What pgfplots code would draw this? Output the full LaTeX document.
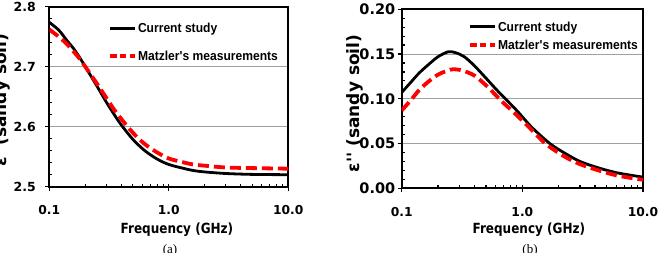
\documentclass[border=0pt]{standalone}
\usepackage{fontspec}
\usepackage{pgfplots}
\pgfplotsset{compat=1.18}
\setmainfont{Liberation Serif}
\newfontfamily\dv{DejaVu Sans}
\newfontfamily\dvn{DejaVu Sans}[FakeStretch=0.86]
\newfontfamily\lsn{Liberation Sans}[FakeStretch=0.93]

\definecolor{gridgray}{RGB}{160,160,160}

\newcommand{\freqlabel}{{\dvn\bfseries\fontsize{14}{16}\selectfont Frequency (GHz)}}

\pgfplotsset{
  panel/.style={
    scale only axis,
    xmin=0.1, xmax=10,
    xtick={0.1,1,10}, xticklabels={0.1,1.0,10.0},
    tick pos=left,
    tick align=outside,
    major tick length=4pt,
    minor tick length=3pt,
    minor y tick num=4,
    tick style={black, line width=1.2pt},
    minor x tick style={yshift=3pt},
    minor y tick style={xshift=3pt},
    axis line style={black, line width=1.8pt},
    ymajorgrids,
    major grid style={gridgray, line width=0.8pt},
    /pgf/number format/assume math mode=true,
    xticklabel style={font=\dv\bfseries\fontsize{12.3}{14}\selectfont, anchor=base, yshift=-24pt},
    xlabel={\freqlabel},
    xlabel style={anchor=base},
    ylabel style={font=\dv\bfseries\fontsize{17}{20}\selectfont, anchor=center},
    legend style={draw=none, fill=none, inner sep=0pt, anchor=north west,
      nodes={inner ysep=0pt, inner xsep=1pt, text height=9pt, text depth=3pt, anchor=base west},
      font=\lsn\bfseries\fontsize{13}{15}\selectfont},
    legend cell align=left,
    legend image code/.code={\draw[##1] (0pt,4.5pt) -- (25pt,4.5pt);},
  },
  black curve/.style={black, line width=2.8pt, smooth},
  red curve/.style={red, line width=3.8pt, smooth, dash pattern=on 11pt off 5pt},
}

\begin{document}
\begin{tikzpicture}
\useasboundingbox (0pt,0pt) rectangle (660pt,253pt);

% (a) real part of the permittivity
\begin{semilogxaxis}[panel,
  at={(49.3pt,66.3pt)}, anchor=south west,
  width=239pt, height=180pt,
  ymin=2.5, ymax=2.8,
  ytick={2.5,2.6,2.7,2.8}, yticklabels={2.5,2.6,2.7,2.8},
  yticklabel style={font=\dv\bfseries\fontsize{12.5}{14}\selectfont, anchor=east, xshift=-6pt},
  xlabel style={at={(axis description cs:0.534,0)}, yshift=-47.3pt},
  ylabel={ε' (sandy soil)},
  ylabel style={at={(axis description cs:-0.1967,0.4817)}},
  legend style={at={(rel axis cs:0.2456,0.905)}, /tikz/row sep=15.7pt},
]
\addlegendimage{black, line width=2.8pt}
\addlegendentry{Current study}
\addlegendimage{red, line width=3.8pt, dash pattern=on 6.5pt off 3.3pt}
\addlegendentry{Matzler's measurements}

\addplot[black curve, forget plot] coordinates {
  (0.10,2.774) (0.12,2.761) (0.14,2.744) (0.16,2.730) (0.18,2.715)
  (0.20,2.700) (0.25,2.668) (0.30,2.641) (0.35,2.620) (0.40,2.603)
  (0.50,2.579) (0.63,2.560) (0.80,2.546) (1.0,2.537) (1.3,2.531)
  (1.6,2.527) (2.0,2.5246) (3.0,2.522) (5.0,2.5205) (10,2.520)
};
\addplot[red curve, forget plot] coordinates {
  (0.10,2.762) (0.12,2.750) (0.14,2.738) (0.16,2.725) (0.18,2.713)
  (0.20,2.700) (0.25,2.672) (0.30,2.648) (0.35,2.628) (0.40,2.613)
  (0.50,2.590) (0.63,2.571) (0.80,2.557) (1.0,2.547) (1.3,2.541)
  (1.6,2.537) (2.0,2.535) (3.0,2.532) (5.0,2.531) (10,2.530)
};
\end{semilogxaxis}

% (b) imaginary part of the permittivity
\begin{semilogxaxis}[panel,
  at={(401.7pt,64.7pt)}, anchor=south west,
  width=241.3pt, height=179pt,
  ymin=0, ymax=0.2,
  ytick={0,0.05,0.1,0.15,0.2}, yticklabels={0.00,0.05,0.10,0.15,0.20},
  yticklabel style={font=\dv\bfseries\fontsize{14.5}{16}\selectfont, anchor=east, xshift=1pt},
  xlabel style={at={(axis description cs:0.527,0)}, yshift=-45.7pt},
  ylabel={ε'' (sandy soil)},
  ylabel style={at={(axis description cs:-0.1956,0.474)}},
  legend style={at={(rel axis cs:0.2748,0.929)}, /tikz/row sep=6.3pt},
]
\addlegendimage{black, line width=2.8pt}
\addlegendentry{Current study}
\addlegendimage{red, line width=3.8pt, dash pattern=on 6.5pt off 3.3pt}
\addlegendentry{Matzler's measurements}

\addplot[black curve, forget plot] coordinates {
  (0.10,0.107) (0.12,0.119) (0.14,0.129) (0.166,0.138) (0.20,0.147)
  (0.243,0.1525) (0.28,0.1515) (0.33,0.147) (0.40,0.137) (0.50,0.123)
  (0.593,0.112) (0.653,0.106) (0.80,0.094) (0.926,0.085) (1.2,0.068)
  (1.69,0.050) (2.2,0.040) (3.0,0.030) (4.4,0.0223) (6.0,0.0175)
  (8.0,0.0145) (10,0.0125)
};
\addplot[red curve, forget plot] coordinates {
  (0.10,0.087) (0.12,0.099) (0.14,0.110) (0.166,0.119) (0.20,0.127)
  (0.24,0.1315) (0.268,0.133) (0.32,0.1315) (0.40,0.126) (0.50,0.115)
  (0.593,0.105) (0.653,0.099) (0.80,0.088) (0.926,0.080) (1.2,0.065)
  (1.55,0.050) (2.2,0.036) (3.0,0.027) (4.4,0.0195) (6.0,0.0145)
  (8.0,0.0115) (10,0.0095)
};
\end{semilogxaxis}

\node[anchor=north, inner sep=0pt, font=\fontsize{13}{15}\selectfont] at (170pt,9pt) {(a)};
\node[anchor=north, inner sep=0pt, font=\fontsize{13}{15}\selectfont] at (530pt,9pt) {(b)};
\end{tikzpicture}
\end{document}
